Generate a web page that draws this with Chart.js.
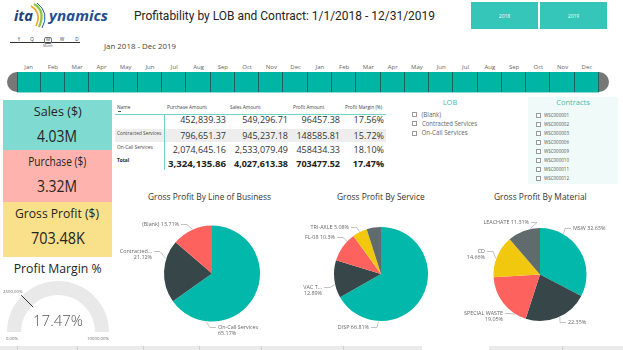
<!DOCTYPE html>
<html><head><meta charset="utf-8">
<script src="https://cdn.jsdelivr.net/npm/chart.js@4.4.1/dist/chart.umd.min.js"></script>
<style>
html,body{margin:0;padding:0;background:#fff;}
body{width:623px;height:350px;position:relative;overflow:hidden;font-family:"Open Sans","Noto Sans",sans-serif;}
.box{position:absolute;}
canvas{position:absolute;}
</style></head><body>
<script>
// ---------- DATA ----------
const years = ["2018", "2019"];
const months = ["Jan","Feb","Mar","Apr","May","Jun","Jul","Aug","Sep","Oct","Nov","Dec"];
const periodLevels = ["Y","Q","M","W","D"];
const dateRangeText = "Jan 2018 - Dec 2019";
const kpiLabels = ["Sales ($)", "Purchase ($)", "Gross Profit ($)"];
const kpiValues = ["4.03M", "3.32M", "703.48K"];
const tableHeaders = ["Name", "Purchase Amount", "Sales Amount", "Profit Amount", "Profit Margin (%)"];
const tableRowNames = ["", "Contracted Services", "On-Call Services"];
const purchaseAmounts = [452839.33, 796651.37, 2074645.16];
const salesAmounts = [549296.71, 945237.18, 2533079.49];
const profitAmounts = [96457.38, 148585.81, 458434.33];
const profitMargins = [17.56, 15.72, 18.10];
const totalRow = [3324135.86, 4027613.38, 703477.52, 17.47];
const lobOptions = ["(Blank)", "Contracted Services", "On-Call Services"];
const contractOptions = ["WSC000001","WSC000002","WSC000003","WSC000006","WSC000009","WSC000010","WSC000011","WSC000012"];
const lobPieLabels = ["On-Call Services", "Contracted...", "(Blank)"];
const lobPieValues = [458434.33, 148585.81, 96457.38];
const servicePieLabels = ["DISP", "VAC T...", "FL-08", "TRI-AXLE", ""];
const servicePieValues = [66.81, 12.89, 10.3, 5.08, 4.92];
const materialPieLabels = ["MSW", "", "SPECIAL WASTE", "CD", "LEACHATE"];
const materialPieValues = [32.63, 22.35, 19.05, 14.66, 11.31];
const gaugeValue = 17.47, gaugeMin = 0, gaugeMax = 10000, gaugeTarget = 2500;

// ---------- STYLE ----------
const FONT = '"Open Sans","Noto Sans",sans-serif';
const PALETTE = ['#01B8AA','#374649','#FD625E','#F2C80F','#5F6B6D'];
const TEAL = '#01B8AA';

function T(str, x, y, o = {}) {
  const d = document.createElement('div');
  const size = o.size || 8;
  d.style.cssText = `position:absolute;white-space:nowrap;line-height:20px;height:20px;top:${y-10}px;font-size:${size}px;font-family:${o.font||FONT};color:${o.color||'#333'};font-weight:${o.weight||400};font-style:${o.style||'normal'};`;
  const s = document.createElement('span');
  s.textContent = str; s.style.display = 'inline-block';
  d.appendChild(s);
  const al = o.align || 'left';
  if (al === 'left') d.style.left = x + 'px';
  else if (al === 'center') { d.style.left = (x-150)+'px'; d.style.width='300px'; d.style.textAlign='center'; }
  else { d.style.left = (x-300)+'px'; d.style.width='300px'; d.style.textAlign='right'; }
  document.body.appendChild(d);
  if (o.w) {
    const w = s.getBoundingClientRect().width;
    s.style.transform = `scaleX(${o.w/w})`;
    s.style.transformOrigin = al==='left' ? 'left center' : al==='right' ? 'right center' : 'center center';
  }
  return d;
}
function R(x, y, w, h, css) {
  const d = document.createElement('div');
  d.className = 'box';
  d.style.cssText += `left:${x}px;top:${y}px;width:${w}px;height:${h}px;${css||''}`;
  document.body.appendChild(d);
  return d;
}

// ---------- LOGO ----------
(function(){
  const d = document.createElement('div');
  d.className='box'; d.style.cssText+='left:12px;top:1px;width:100px;height:28px;';
  d.innerHTML = `<svg width="100" height="28" viewBox="0 0 100 28">
    <path d="M22 3 Q34 10 27 26" stroke="#8cc63f" stroke-width="2.2" fill="none"/>
    <path d="M19 5 Q30 12 24 25" stroke="#f7a21b" stroke-width="1.6" fill="none"/>
    <path d="M25 2 Q38 12 30 27" stroke="#1f5aa6" stroke-width="1" fill="none"/>
  </svg>`;
  document.body.appendChild(d);
})();
T("ita", 14, 16, {size:14, weight:700, style:'italic', color:'#1d3f78', font:'"Open Sans",sans-serif', w:19});
T("ynamics", 49, 15, {size:15, weight:700, style:'italic', color:'#1f4f93', font:'"Open Sans",sans-serif', w:59});

// ---------- TITLE ----------
T("Profitability by LOB and Contract: 1/1/2018 - 12/31/2019", 134, 15.5, {size:13, font:'Roboto,sans-serif', color:'#252423', w:301});

// ---------- YEAR BUTTONS ----------
years.forEach((yv, i) => {
  const x = 471 + i*69;
  R(x, 2, 67, 27, 'background:#35c5b9;');
  T(yv, x+33.5, 15.5, {size:5, align:'center', color:'#fff'});
});

// ---------- PERIOD LEVEL SLICER ----------
R(10, 41.5, 70, 0.7, 'background:#333;');
const lvlX = [19, 32, 48, 62, 77];
periodLevels.forEach((lv, i) => {
  T(lv, lvlX[i], 39.3, {size:4.5, align:'center', color:'#333'});
});
R(44, 36.5, 8, 7.5, 'border:0.7px solid #777;border-radius:2px;box-sizing:border-box;');
T("Month", 48, 46, {size:3, align:'center', color:'#555'});
T(dateRangeText, 104, 47, {size:7, color:'#444', w:72});

// ---------- TIMELINE ----------
const cellX0 = 16.5, cellW = (599 - 16.5) / (years.length * months.length);
R(7, 72, 10, 20, 'background:#777;border-radius:10px 0 0 10px;');
R(599, 72, 10, 20, 'background:#777;border-radius:0 10px 10px 0;');
years.forEach((yv, yi) => months.forEach((m, mi) => {
  const k = yi*12 + mi;
  const x = cellX0 + k*cellW;
  R(x, 72, cellW, 20, 'background:#00b5a4;border-right:1px solid #23615d;box-sizing:border-box;' + (k===0?'border-left:1px solid #23615d;':''));
  T(m, x + cellW/2, 67.3, {size:6, align:'center', color:'#666'});
}));
R(16.5, 91.5, 582.5, 1.2, 'background:#8ad9d2;');

// ---------- KPI CARDS ----------
const kpiColors = ['#7fdbd2', '#ffb3ae', '#f9e08b'];
const kpiTops = [100, 150, 202], kpiH = [50, 52, 55];
const kpiLabelW = [48, 58, 84], kpiValueW = [40, 40, 54];
kpiLabels.forEach((lab, i) => {
  R(3, kpiTops[i], 109, kpiH[i], `background:${kpiColors[i]};`);
  T(lab, 57.5, kpiTops[i] + 10.5, {size:13, align:'center', color:'#252423', w:kpiLabelW[i]});
  T(kpiValues[i], 57.5, kpiTops[i] + 36, {size:16, align:'center', color:'#252423', w:kpiValueW[i]});
});
T("Profit Margin %", 58, 267.5, {size:13, align:'center', color:'#252423', w:88});

// ---------- TABLE ----------
const colRight = [null, 226, 288, 340, 384];
T(tableHeaders[0], 117, 107, {size:4.8, color:'#444'});
for (let c = 1; c < tableHeaders.length; c++) {
  const lefts = [0, 167, 230, 293, 345];
  T(tableHeaders[c], lefts[c], 107, {size:4.8, color:'#444'});
}
R(117.5, 110.5, 3, 0.6, 'background:#555;');
R(115, 128.5, 271, 13.5, 'background:#eeeeee;');
R(115, 113.5, 271, 1, 'background:#6fd3ca;');
R(164, 114, 1, 56, 'background:#6fd3ca;');
const fmtComma = v => v.toLocaleString('en-US', {minimumFractionDigits:2, maximumFractionDigits:2});
const fmtPlain = v => v.toFixed(2);
const rowLabelY = [119, 132.7, 146.7];
const rowValY = [120, 135.5, 150];
tableRowNames.forEach((nm, r) => {
  if (nm) T(nm, 117, rowLabelY[r], {size:4.8, color:'#444'});
  T(fmtComma(purchaseAmounts[r]), colRight[1], rowValY[r], {size:9, align:'right', color:'#333'});
  T(fmtComma(salesAmounts[r]), colRight[2], rowValY[r], {size:9, align:'right', color:'#333'});
  T(fmtPlain(profitAmounts[r]), colRight[3], rowValY[r], {size:9, align:'right', color:'#333'});
  T(profitMargins[r].toFixed(2) + '%', colRight[4], rowValY[r], {size:9, align:'right', color:'#333'});
});
T("Total", 117, 160, {size:4.8, weight:700, color:'#222'});
T(fmtComma(totalRow[0]), colRight[1], 164.3, {size:9, weight:700, align:'right', color:'#222', w:58});
T(fmtComma(totalRow[1]), colRight[2], 164.3, {size:9, weight:700, align:'right', color:'#222'});
T(fmtPlain(totalRow[2]), colRight[3], 164.3, {size:9, weight:700, align:'right', color:'#222'});
T(totalRow[3].toFixed(2) + '%', colRight[4], 164.3, {size:9, weight:700, align:'right', color:'#222'});

// ---------- SLICERS ----------
T("LOB", 450, 102, {size:7.5, align:'center', color:'#3dbdb2'});
lobOptions.forEach((o, i) => {
  const y = 114.5 + i*9.3;
  R(411.5, y-2.5, 5, 5, 'border:0.7px solid #999;box-sizing:border-box;background:#fff;');
  T(o, 421.5, y, {size:6.2, color:'#666', w: i===1 ? 55 : undefined});
});
R(528, 97, 90, 87, 'background:#effaf9;');
T("Contracts", 573, 102, {size:7.5, align:'center', color:'#3dbdb2'});
contractOptions.forEach((o, i) => {
  const y = 115 + i*9;
  R(535.5, y-2.5, 5, 5, 'border:0.7px solid #999;box-sizing:border-box;background:#fff;');
  T(o, 544, y, {size:6, color:'#555', w:25});
});

// ---------- PIE TITLES ----------
T("Gross Profit By Line of Business", 148, 197.3, {size:9.3, color:'#333', w:123});
T("Gross Profit By Service", 336.7, 197.3, {size:9.3, color:'#333', w:87.6});
T("Gross Profit By Material", 494, 197.3, {size:9.3, color:'#333', w:92.7});

// ---------- BOTTOM STRIP ----------
R(0, 346, 422, 4, 'background:#ebebeb;');
R(489, 346, 134, 4, 'background:#ebebeb;');
[17, 77, 143, 199, 261, 343, 562].forEach(x => R(x, 346, 0.8, 4, 'background:#cfcfcf;'));

// ---------- CHART.JS PLUGINS ----------
const pieLabelPlugin = {
  id: 'pieLabels',
  afterDatasetsDraw(chart, args, opts) {
    const ctx = chart.ctx;
    const meta = chart.getDatasetMeta(0);
    const vals = chart.data.datasets[0].data;
    const total = vals.reduce((a, b) => a + b, 0);
    ctx.save();
    ctx.font = opts.font; ctx.fillStyle = opts.color; ctx.strokeStyle = opts.lineColor; ctx.lineWidth = 0.6;
    meta.data.forEach((arc, i) => {
      const L = opts.layout[i]; if (!L) return;
      const p = arc.getProps(['x','y','outerRadius'], true);
      const pct = (+(vals[i] / total * 100).toFixed(2)) + '%';
      const name = chart.data.labels[i];
      const lines = L.split ? [name, pct] : [name ? name + ' ' + pct : pct];
      const a = (L.angle - 90) * Math.PI / 180;
      const px = p.x + (p.outerRadius + 0.5) * Math.cos(a), py = p.y + (p.outerRadius + 0.5) * Math.sin(a);
      const tx = p.x + L.dx, ty = p.y + L.dy;
      const side = L.align === 'left' ? -1 : 1;
      ctx.beginPath();
      ctx.moveTo(tx + side*2, ty + 0.5);
      ctx.lineTo(tx + side*8, ty + 0.5);
      ctx.lineTo(px, py);
      ctx.stroke();
      ctx.textAlign = L.align; ctx.textBaseline = 'middle';
      lines.forEach((s, k) => ctx.fillText(s, tx, ty + k*6.5));
    });
    ctx.restore();
  }
};

function makePie(id, left, top, w, h, cx, cy, r, labels, values, layout) {
  const c = document.createElement('canvas');
  c.id = id; c.width = w; c.height = h;
  c.style.left = left + 'px'; c.style.top = top + 'px';
  document.body.appendChild(c);
  const lx = cx - left, ly = cy - top;
  new Chart(c, {
    type: 'pie',
    data: { labels: labels, datasets: [{ data: values, backgroundColor: PALETTE.slice(0, values.length), borderWidth: 0 }] },
    options: {
      responsive: false, animation: false, devicePixelRatio: 1,
      layout: { padding: { left: lx - r, right: w - lx - r, top: ly - r, bottom: h - ly - r } },
      plugins: { legend: { display: false }, tooltip: { enabled: false },
        pieLabels: { layout: layout, font: '5.4px "Open Sans", sans-serif', color: '#666', lineColor: '#9a9a9a' } }
    },
    plugins: [pieLabelPlugin]
  });
}

makePie('pieLob', 110, 205, 190, 140, 212, 273.5, 48, lobPieLabels, lobPieValues, [
  { angle: 187, dx: 6, dy: 53.5, align: 'left', split: true },
  { angle: 288, dx: -60, dy: -22.5, align: 'right', split: true },
  { angle: 336, dx: -33, dy: -49.5, align: 'right', split: false }
]);
makePie('pieService', 300, 205, 155, 140, 381, 274, 47, servicePieLabels, servicePieValues, [
  { angle: 183, dx: -12, dy: 53, align: 'right', split: false },
  { angle: 257, dx: -59, dy: 13, align: 'right', split: true },
  { angle: 314, dx: -46, dy: -37, align: 'right', split: false },
  { angle: 333, dx: -32, dy: -47, align: 'right', split: false },
  null
]);
makePie('pieMaterial', 455, 205, 168, 140, 540, 274.5, 46.5, materialPieLabels, materialPieValues, [
  { angle: 30, dx: 33, dy: -46.5, align: 'left', split: false },
  { angle: 155, dx: 28, dy: 47.5, align: 'left', split: false },
  { angle: 212, dx: -37, dy: 38.5, align: 'right', split: true },
  { angle: 290, dx: -55, dy: -23.5, align: 'right', split: true },
  { angle: 348, dx: -11, dy: -52.5, align: 'right', split: false }
]);

// ---------- GAUGE ----------
const gaugePlugin = {
  id: 'gaugeDeco',
  afterDatasetsDraw(chart) {
    const ctx = chart.ctx;
    const arc = chart.getDatasetMeta(0).data[0];
    const p = arc.getProps(['x','y','innerRadius','outerRadius'], true);
    ctx.save();
    const frac = (gaugeTarget - gaugeMin) / (gaugeMax - gaugeMin);
    const a = Math.PI + frac * Math.PI;
    const r1 = p.innerRadius - 2, r2 = p.outerRadius + 1;
    ctx.strokeStyle = '#333'; ctx.lineWidth = 1;
    ctx.beginPath();
    ctx.moveTo(p.x + r1*Math.cos(a), p.y + r1*Math.sin(a));
    ctx.lineTo(p.x + r2*Math.cos(a), p.y + r2*Math.sin(a));
    ctx.stroke();
    ctx.fillStyle = '#666';
    ctx.font = '4.3px "Open Sans", sans-serif';
    ctx.textBaseline = 'middle';
    ctx.textAlign = 'right';
    ctx.fillText(gaugeTarget.toFixed(2) + '%', p.x + (r2+1)*Math.cos(a) + 2, p.y + (r2+1)*Math.sin(a) - 3);
    ctx.textAlign = 'left';
    ctx.fillText(gaugeMin.toFixed(2) + '%', p.x - p.outerRadius - 1, p.y + 7);
    ctx.textAlign = 'right';
    ctx.fillText(gaugeMax.toFixed(2) + '%', p.x + p.outerRadius, p.y + 7);
    ctx.fillStyle = '#555';
    ctx.font = '300 15px "Open Sans", sans-serif';
    ctx.textAlign = 'center';
    ctx.fillText(gaugeValue.toFixed(2) + '%', p.x, p.y - 10);
    ctx.restore();
  }
};
(function(){
  const c = document.createElement('canvas');
  c.width = 118; c.height = 70; c.style.left = '0px'; c.style.top = '275px';
  document.body.appendChild(c);
  new Chart(c, {
    type: 'doughnut',
    data: { labels: ['Value', 'Remaining'], datasets: [{ data: [gaugeValue - gaugeMin, gaugeMax - gaugeValue], backgroundColor: [TEAL, '#e9e9e9'], borderWidth: 0 }] },
    options: {
      responsive: false, animation: false, devicePixelRatio: 1,
      rotation: -90, circumference: 180, cutout: '72.5%',
      layout: { padding: { left: 7, right: 9, top: 6, bottom: 13 } },
      plugins: { legend: { display: false }, tooltip: { enabled: false } }
    },
    plugins: [gaugePlugin]
  });
})();
</script>
</body></html>
